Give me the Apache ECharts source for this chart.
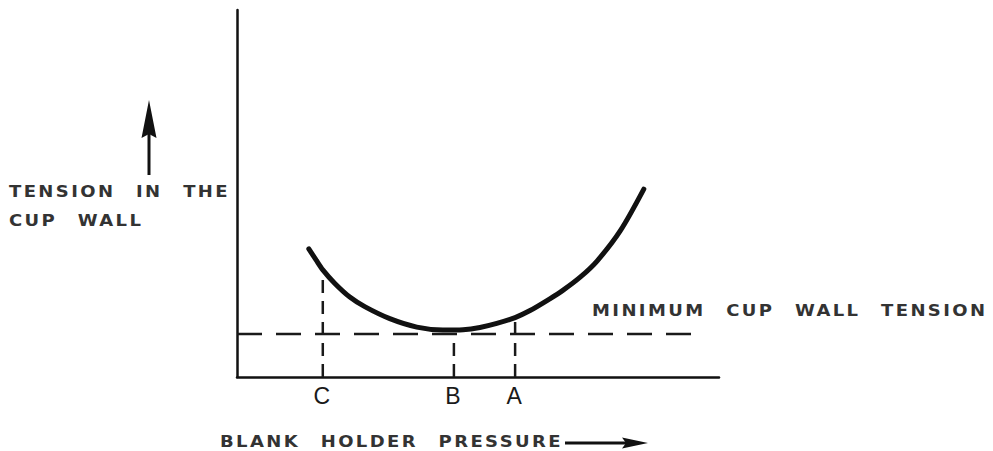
<!DOCTYPE html>
<html>
<head>
<meta charset="utf-8">
<script src="https://cdn.jsdelivr.net/npm/echarts@6/dist/echarts.min.js"></script>
<style>
  html, body { margin: 0; padding: 0; background: #fff; }
  #chart { width: 993px; height: 451px; }
  /* spaced-out lettering for the annotation text */
  #chart text { letter-spacing: 2px; word-spacing: 10px; }
</style>
</head>
<body>
<div id="chart"></div>
<script>
// Blank holder pressure (arbitrary units) and tension in the cup wall (arbitrary units)
const pressure = [14.9, 16.4, 17.8, 20.3, 23.4, 26.6, 31.7, 37.3, 42.7, 46.9, 50.4, 53.9, 57.7, 60.8, 64.9, 67.6, 71.2, 74.7, 79.5, 84.4];
const tension  = [34.9, 31.9, 29.2, 25.5, 21.8, 19.1, 15.9, 13.6, 12.8, 12.9, 13.5, 14.6, 16.2, 18.1, 21.3, 23.6, 27.2, 31.6, 39.8, 51.2];

// Minimum cup wall tension and the extent of its reference line
const minTension = 11.7;
const minLineEnd = 94.6;

// Marked pressures on the horizontal axis
const markNames    = ['C', 'B', 'A'];
const markPressure = [17.8, 45.0, 57.7];
const markTop      = [29.2, 11.7, 16.2];

const curveData = pressure.map((x, i) => [x, tension[i]]);

const dashed = { color: '#1a1a1a', width: 2.5, type: [13, 8] };

const series = [
  {
    type: 'line',
    data: curveData,
    smooth: 0.3,
    showSymbol: false,
    lineStyle: { color: '#111', width: 5, cap: 'round' },
    z: 5
  },
  {
    type: 'line',
    data: [[0, minTension], [minLineEnd, minTension]],
    showSymbol: false,
    lineStyle: { color: '#1a1a1a', width: 2.5, type: [25, 14] },
    z: 3
  }
];
markPressure.forEach((x, i) => {
  series.push({
    type: 'line',
    data: [[x, 0], [x, markTop[i]]],
    showSymbol: false,
    lineStyle: dashed,
    z: 3
  });
});

// Wide, letter-spaced annotation text
function note(x, y, text) {
  return {
    type: 'text',
    x: x,
    y: y,
    scaleX: 1.2,
    style: {
      x: 0, y: 0, text: text,
      fill: '#333',
      fontSize: 15,
      fontWeight: 'bold',
      fontFamily: 'DejaVu Sans',
      verticalAlign: 'middle'
    }
  };
}

const chart = echarts.init(document.getElementById('chart'), null, { renderer: 'svg' });
chart.setOption({
  animation: false,
  backgroundColor: '#fff',
  grid: { left: 237, right: 274, top: 10, bottom: 74 },
  xAxis: {
    type: 'value',
    min: 0,
    max: 100,
    splitLine: { show: false },
    axisTick: { show: false },
    axisLine: { show: true, lineStyle: { color: '#111', width: 2.5 } },
    axisLabel: {
      customValues: markPressure,
      formatter: v => markNames[markPressure.indexOf(v)] || '',
      color: '#1a1a1a',
      fontSize: 23,
      fontFamily: 'Liberation Sans',
      margin: 7
    }
  },
  yAxis: {
    type: 'value',
    min: 0,
    max: 100,
    splitLine: { show: false },
    axisTick: { show: false },
    axisLabel: { show: false },
    axisLine: { show: true, lineStyle: { color: '#111', width: 2.5 } }
  },
  series: series,
  graphic: [
    note(9, 192, 'TENSION IN THE'),
    note(9, 221, 'CUP WALL'),
    note(592, 311, 'MINIMUM CUP WALL TENSION'),
    note(220, 442, 'BLANK HOLDER PRESSURE'),
    // upward arrow beside the vertical axis title
    { type: 'line', shape: { x1: 149, y1: 175, x2: 149, y2: 132 }, style: { stroke: '#111', lineWidth: 3 } },
    { type: 'polygon', shape: { points: [[149, 100], [156.5, 138], [149, 134], [141.5, 138]] }, style: { fill: '#111' } },
    // rightward arrow after the horizontal axis title
    { type: 'line', shape: { x1: 565, y1: 443, x2: 630, y2: 443 }, style: { stroke: '#111', lineWidth: 3 } },
    { type: 'polygon', shape: { points: [[648, 443], [622, 437.5], [626, 443], [622, 448.5]] }, style: { fill: '#111' } }
  ]
});
</script>
</body>
</html>
